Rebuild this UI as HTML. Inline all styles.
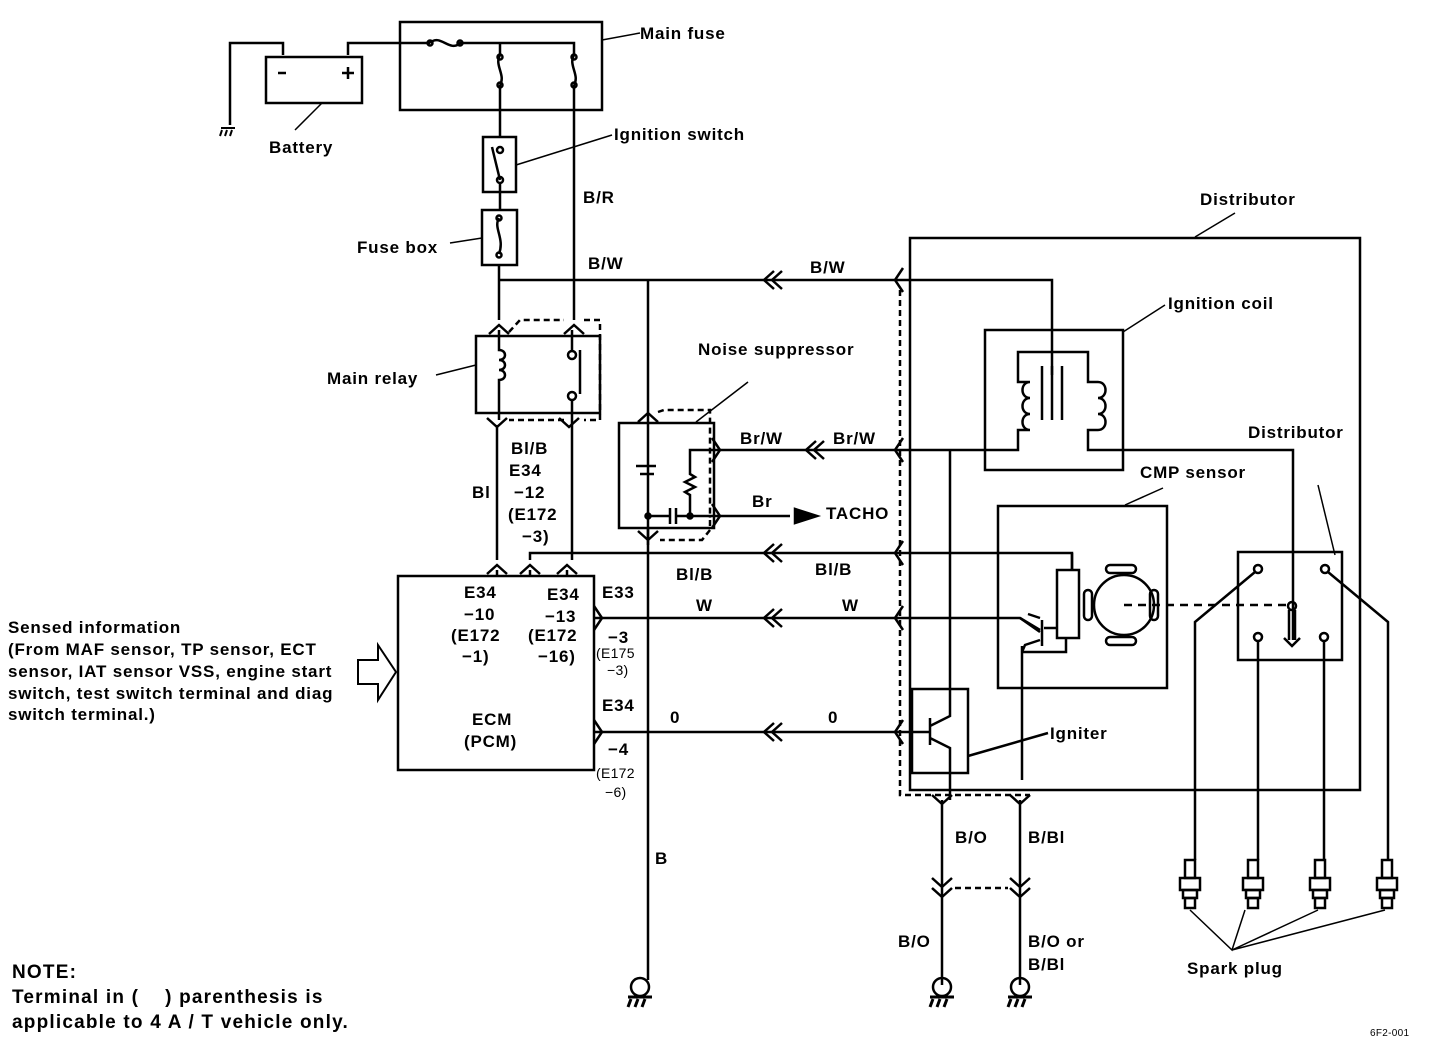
<!DOCTYPE html>
<html><head><style>
html,body{margin:0;padding:0;background:#fff}
svg{display:block}
text{font-family:"Liberation Sans",sans-serif;font-size:17px;font-weight:bold;letter-spacing:0.8px;fill:#000}
.s{font-size:14px;font-weight:normal;letter-spacing:0.3px}
.n{font-size:19px;letter-spacing:1.2px}
</style></head><body>
<svg width="1440" height="1048" viewBox="0 0 1440 1048" xmlns="http://www.w3.org/2000/svg" fill="none" stroke="#000" stroke-width="2.5" stroke-linejoin="miter">
<defs>
<path id="cu" d="M-10,7 L0,-2 L10,7" />
<path id="cd" d="M-10,-7 L0,2 L10,-7" />
<path id="dl" d="M6,-9 L-4,0 L6,9 M14,-9 L4,0 L14,9" />
<path id="cl" d="M6,-12 L-2,0 L6,12" />
<path id="cr" d="M-6,-12 L2,0 L-6,12" />
<g id="gnd"><circle cx="0" cy="-10" r="9"/><path d="M-12,0 H12 M-9,2 L-12,10 M-2,2 L-5,10 M5,2 L2,10" stroke-width="3"/></g>
<g id="plug"><rect x="-5" y="0" width="10" height="18"/><rect x="-10" y="18" width="20" height="12"/><rect x="-7" y="30" width="14" height="8"/><rect x="-5" y="38" width="10" height="10"/></g>
</defs>

<path d="M230,125 V43 H283 V55"/>
<path d="M221,128 h14 M222,130 l-2,6 M227,130 l-2,6 M232,130 l-2,6" stroke-width="2"/>
<rect x="266" y="57" width="96" height="46"/>
<path d="M278,73 h8 M342,73 h12 M348,67 v12"/>
<path d="M348,55 V43 H430"/>
<rect x="400" y="22" width="202" height="88"/>
<path d="M430,43 c10,-10 20,10 30,0 H574 V55 M500,43 V55 M500,55 c-6,10 6,20 0,30 M574,55 c-6,10 6,20 0,30 M500,85 V137 M574,85 V320"/>
<circle cx="430" cy="43" r="2.5"/><circle cx="460" cy="43" r="2.5"/>
<circle cx="500" cy="57" r="2.5"/><circle cx="500" cy="85" r="2.5"/>
<circle cx="574" cy="57" r="2.5"/><circle cx="574" cy="85" r="2.5"/>
<path d="M602,40 L640,33" stroke-width="1.5"/>
<path d="M295,130 L322,103" stroke-width="1.5"/>
<rect x="483" y="137" width="33" height="55"/>
<circle cx="500" cy="150" r="3"/><circle cx="500" cy="180" r="3"/>
<path d="M492,147 L500,180 M500,183 V210"/>
<path d="M516,165 L612,135" stroke-width="1.5"/>
<rect x="482" y="210" width="35" height="55"/>
<circle cx="499" cy="218" r="2.5"/><circle cx="499" cy="255" r="2.5"/>
<path d="M499,218 c-6,10 6,20 0,36 M499,265 V320"/>
<path d="M450,243 L482,238" stroke-width="1.5"/>
<path d="M499,280 H1052 V375"/>
<use href="#dl" x="768" y="280"/>
<use href="#cl" x="897" y="280"/>
<path d="M648,280 V980"/>
<use href="#cu" x="499" y="327"/><use href="#cu" x="574" y="327"/>
<path d="M509,332 L520,320 H564 M584,320 H600 V420 H584 M564,420 H509" stroke-dasharray="6,4"/>
<rect x="476" y="336" width="124" height="77"/>
<path d="M499,330 V350 c8,0 8,10 0,10 c8,0 8,10 0,10 c8,0 8,10 0,10 V420"/>
<circle cx="572" cy="355" r="4"/><circle cx="572" cy="396" r="4"/>
<path d="M572,330 V351 M580,350 V394 M572,400 V560"/>
<path d="M436,375 L476,365" stroke-width="1.5"/>
<use href="#cd" x="497" y="425"/><use href="#cd" x="569" y="425"/>
<path d="M497,425 V560"/>
<use href="#cu" x="497" y="567"/><use href="#cu" x="530" y="567"/><use href="#cu" x="567" y="567"/>
<path d="M530,560 V553 H1072 V570 M530,570 V576 M567,570 V576 M497,570 V576"/>
<use href="#dl" x="768" y="553"/>
<use href="#cl" x="897" y="553"/>
<rect x="398" y="576" width="196" height="194"/>
<path d="M358,660 H378 V645 L396,672 L378,700 V684 H358 Z" stroke-width="2"/>
<path d="M594,618 H1020 L1040,632 M594,732 H930"/>
<use href="#cr" x="600" y="618"/><use href="#cr" x="600" y="732"/>
<use href="#dl" x="768" y="618"/><use href="#dl" x="768" y="732"/>
<use href="#cl" x="897" y="618"/><use href="#cl" x="897" y="732"/>
<use href="#cu" x="648" y="415"/>
<path d="M658,412 L664,410 H710 V518 M710,520 V530 L702,540 H660" stroke-dasharray="6,4"/>
<rect x="619" y="423" width="95" height="105"/>
<path d="M636,466 h20 M640,474 h14" />
<path d="M648,516 H670 M676,516 H690 M670,508 v16 M676,508 v16"/>
<circle cx="648" cy="516" r="2.5" fill="#000"/><circle cx="690" cy="516" r="2.5" fill="#000"/>
<path d="M690,516 V495 l-5,-3 l10,-5 l-10,-5 l10,-5 l-5,-3 V450 H1005 M690,516 H790"/>
<use href="#cr" x="718" y="450"/><use href="#cr" x="718" y="516"/>
<use href="#dl" x="810" y="450"/>
<use href="#cl" x="897" y="450"/>
<path d="M795,509 L817,516 L795,523 Z" fill="#000"/>
<path d="M648,528 V545"/>
<use href="#cd" x="648" y="538"/>
<path d="M696,422 L748,382" stroke-width="1.5"/>
<path d="M900,290 V795 H1030" stroke-dasharray="6,4"/>
<rect x="910" y="238" width="450" height="552"/>
<path d="M1195,237 L1235,213" stroke-width="1.5"/>
<rect x="985" y="330" width="138" height="140"/>
<path d="M1005,450 H1018 V430 H1030 c-10,0 -10,-16 0,-16 M1030,414 c-10,0 -10,-16 0,-16 c-10,0 -10,-16 0,-16 H1018 V352 H1088 V382 H1098 c10,0 10,16 0,16 c10,0 10,16 0,16 c10,0 10,16 0,16 H1088 V450 H1293 V640"/>
<path d="M1042,366 V420 M1052,366 V420 M1062,366 V420"/>
<path d="M1123,332 L1165,305" stroke-width="1.5"/>
<rect x="998" y="506" width="169" height="182"/>
<path d="M1125,505 L1163,488" stroke-width="1.5"/>
<rect x="1057" y="570" width="22" height="68"/>
<path d="M1072,553 V570 M1066,638 V652 H1022 M1040,618 L1028,614 M1042,620 V646 M1022,646 V780 M1044,628 L1057,628"/>
<path d="M1020,618 L1040,630 M1040,640 L1025,645 L1022,652"/>
<circle cx="1124" cy="605" r="30"/>
<rect x="1106" y="565" width="30" height="8" rx="4"/><rect x="1106" y="637" width="30" height="8" rx="4"/>
<rect x="1084" y="590" width="8" height="30" rx="4"/><rect x="1150" y="590" width="8" height="30" rx="4"/>
<path d="M1124,605 H1290" stroke-dasharray="8,6"/>
<rect x="1238" y="552" width="104" height="108"/>
<circle cx="1258" cy="569" r="4"/><circle cx="1325" cy="569" r="4"/>
<circle cx="1258" cy="637" r="4"/><circle cx="1324" cy="637" r="4"/>
<circle cx="1292" cy="606" r="4"/>
<path d="M1289,610 V640 M1295,610 V640 M1284,638 L1292,646 L1300,638"/>
<path d="M1255,572 L1195,622 V860 M1258,641 V860 M1324,641 V860 M1328,572 L1388,622 V860"/>
<path d="M1335,555 L1318,485" stroke-width="1.5"/>
<rect x="912" y="689" width="56" height="84"/>
<path d="M930,718 V745 M930,726 L950,716 V450 M930,738 L950,748 V800 M968,756 L1048,733"/>
<path d="M942,800 V985 M1020,800 V985"/>
<use href="#cd" x="942" y="802"/><use href="#cd" x="1020" y="802"/>
<use href="#cd" x="942" y="885"/><use href="#cd" x="942" y="895"/>
<use href="#cd" x="1020" y="885"/><use href="#cd" x="1020" y="895"/>
<path d="M955,888 H1008" stroke-dasharray="6,4"/>
<use href="#gnd" x="942" y="997"/><use href="#gnd" x="1020" y="997"/><use href="#gnd" x="640" y="997"/>
<use href="#plug" x="1190" y="860"/><use href="#plug" x="1253" y="860"/><use href="#plug" x="1320" y="860"/><use href="#plug" x="1387" y="860"/>
<path d="M1190,910 L1232,950 L1245,910 M1232,950 L1318,910 M1232,950 L1385,910" stroke-width="1.5"/>

<g stroke="none">
<text x="640" y="39">Main fuse</text>
<text x="269" y="153">Battery</text>
<text x="614" y="140">Ignition switch</text>
<text x="583" y="203">B/R</text>
<text x="357" y="253">Fuse box</text>
<text x="588" y="269">B/W</text>
<text x="810" y="273">B/W</text>
<text x="1200" y="205">Distributor</text>
<text x="1168" y="309">Ignition coil</text>
<text x="698" y="355">Noise suppressor</text>
<text x="327" y="384">Main relay</text>
<text x="1248" y="438">Distributor</text>
<text x="740" y="444">Br/W</text>
<text x="833" y="444">Br/W</text>
<text x="511" y="454">Bl/B</text>
<text x="509" y="476">E34</text>
<text x="514" y="498">−12</text>
<text x="508" y="520">(E172</text>
<text x="522" y="542">−3)</text>
<text x="472" y="498">Bl</text>
<text x="1140" y="478">CMP sensor</text>
<text x="752" y="507">Br</text>
<text x="826" y="519">TACHO</text>
<text x="676" y="580">Bl/B</text>
<text x="815" y="575">Bl/B</text>
<text x="464" y="598">E34</text>
<text x="464" y="620">−10</text>
<text x="451" y="641">(E172</text>
<text x="462" y="662">−1)</text>
<text x="547" y="600">E34</text>
<text x="545" y="622">−13</text>
<text x="528" y="641">(E172</text>
<text x="538" y="662">−16)</text>
<text x="602" y="598">E33</text>
<text x="696" y="611">W</text>
<text x="842" y="611">W</text>
<text x="608" y="643">−3</text>
<text x="596" y="658" class="s">(E175</text>
<text x="607" y="675" class="s">−3)</text>
<text x="8" y="633">Sensed information</text>
<text x="8" y="655">(From MAF sensor, TP sensor, ECT</text>
<text x="8" y="677">sensor, IAT sensor VSS, engine start</text>
<text x="8" y="699">switch, test switch terminal and diag</text>
<text x="8" y="720">switch terminal.)</text>
<text x="602" y="711">E34</text>
<text x="670" y="723">0</text>
<text x="828" y="723">0</text>
<text x="472" y="725">ECM</text>
<text x="464" y="747">(PCM)</text>
<text x="1050" y="739">Igniter</text>
<text x="608" y="755">−4</text>
<text x="596" y="778" class="s">(E172</text>
<text x="605" y="797" class="s">−6)</text>
<text x="955" y="843">B/O</text>
<text x="1028" y="843">B/Bl</text>
<text x="655" y="864">B</text>
<text x="898" y="947">B/O</text>
<text x="1028" y="947">B/O or</text>
<text x="1028" y="970">B/Bl</text>
<text x="1187" y="974">Spark plug</text>
<text x="12" y="978" class="n">NOTE:</text>
<text x="12" y="1003" class="n">Terminal in (&#160;&#160;&#160;&#160;) parenthesis is</text>
<text x="12" y="1028" class="n">applicable to 4 A / T vehicle only.</text>
<text x="1370" y="1036" class="s" style="font-size:10px">6F2-001</text>
</g>
</svg>
</body></html>
